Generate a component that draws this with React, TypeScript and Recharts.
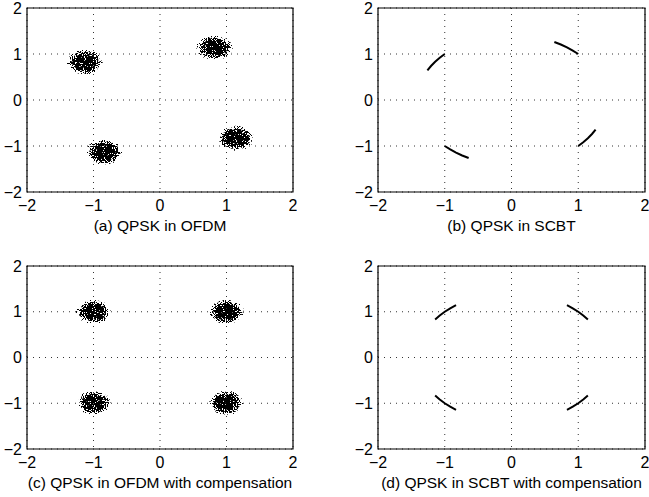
import React from 'react';
import {
  ScatterChart,
  Scatter,
  XAxis,
  YAxis,
  CartesianGrid,
  ReferenceArea,
} from 'recharts';

// axis ticks shared by all four panels
const TICKS = [-2, -1, 0, 1, 2];

// (a) OFDM clouds, rotated by the phase error
const cloudsA = [
  { x: -1.13, y: 0.83 },
  { x: 0.82, y: 1.14 },
  { x: -0.84, y: -1.13 },
  { x: 1.14, y: -0.83 },
];

// (c) OFDM clouds after compensation
const cloudsC = [
  { x: -1.0, y: 1.0 },
  { x: 1.0, y: 1.0 },
  { x: -0.99, y: -0.99 },
  { x: 1.0, y: -0.99 },
];

// (b) SCBT arcs, one array per constellation point
const arcB1 = [
  { x: -1.0, y: 1.0 },
  { x: -1.075, y: 0.918 },
  { x: -1.144, y: 0.831 },
  { x: -1.206, y: 0.739 },
  { x: -1.26, y: 0.642 },
];
const arcB2 = [
  { x: 1.0, y: 1.0 },
  { x: 0.918, y: 1.075 },
  { x: 0.831, y: 1.144 },
  { x: 0.739, y: 1.206 },
  { x: 0.642, y: 1.26 },
];
const arcB3 = [
  { x: -1.0, y: -1.0 },
  { x: -0.918, y: -1.075 },
  { x: -0.831, y: -1.144 },
  { x: -0.739, y: -1.206 },
  { x: -0.642, y: -1.26 },
];
const arcB4 = [
  { x: 1.0, y: -1.0 },
  { x: 1.075, y: -0.918 },
  { x: 1.144, y: -0.831 },
  { x: 1.206, y: -0.739 },
  { x: 1.26, y: -0.642 },
];

// (d) SCBT arcs after compensation
const arcD1 = [
  { x: -0.831, y: 1.144 },
  { x: -0.918, y: 1.075 },
  { x: -1.0, y: 1.0 },
  { x: -1.075, y: 0.918 },
  { x: -1.144, y: 0.831 },
];
const arcD2 = [
  { x: 0.831, y: 1.144 },
  { x: 0.918, y: 1.075 },
  { x: 1.0, y: 1.0 },
  { x: 1.075, y: 0.918 },
  { x: 1.144, y: 0.831 },
];
const arcD3 = [
  { x: -0.831, y: -1.144 },
  { x: -0.918, y: -1.075 },
  { x: -1.0, y: -1.0 },
  { x: -1.075, y: -0.918 },
  { x: -1.144, y: -0.831 },
];
const arcD4 = [
  { x: 0.831, y: -1.144 },
  { x: 0.918, y: -1.075 },
  { x: 1.0, y: -1.0 },
  { x: 1.075, y: -0.918 },
  { x: 1.144, y: -0.831 },
];

const FONT = 'Arial, "Liberation Sans", Helvetica, sans-serif';
const TICK_FONT = 16;
const Y_AXIS_W = 27;
const X_AXIS_H = 20;

const fmt = (v: number) => (v < 0 ? `\u2212${Math.abs(v)}` : `${v}`);

const tickStyle = { fontSize: `${TICK_FONT}px`, fontFamily: FONT, fill: '#000' };

// tick labels drawn by hand so the font size sticks
const XTick = ({ x, y, payload }: any) => (
  <text x={x} y={y + 19} textAnchor="middle" style={tickStyle}>
    {fmt(payload.value)}
  </text>
);

const YTick = ({ x, y, payload }: any) => (
  <text x={x + 1} y={y + 5.5} textAnchor="end" style={tickStyle}>
    {fmt(payload.value)}
  </text>
);

interface PanelProps {
  id: string;
  left: number;
  top: number;
  plotW: number;
  plotH: number;
  caption: string;
  clouds?: { x: number; y: number }[];
  arcs?: { x: number; y: number }[][];
  spread?: number;
}

const Panel = ({ id, left, top, plotW, plotH, caption, clouds, arcs, spread = 0.27 }: PanelProps) => {
  const marginTop = 8;
  const marginRight = 4;
  const width = Y_AXIS_W + plotW + marginRight;
  const height = marginTop + plotH + X_AXIS_H + 10;
  const pxX = plotW / 4;
  const pxY = plotH / 4;

  // a cloud of received symbols: dithered radial density
  const CloudShape = (props: any) => {
    const { cx, cy, index } = props;
    const key = `${id}-${index}`;
    const rx = spread * pxX;
    const ry = spread * pxY;
    return (
      <g>
        <defs>
          <radialGradient id={`grad-${key}`}>
            <stop offset="0%" stopColor="#000" stopOpacity={1} />
            <stop offset="48%" stopColor="#000" stopOpacity={1} />
            <stop offset="70%" stopColor="#000" stopOpacity={0.72} />
            <stop offset="87%" stopColor="#000" stopOpacity={0.25} />
            <stop offset="100%" stopColor="#000" stopOpacity={0} />
          </radialGradient>
          <filter id={`grain-${key}`} x="-20%" y="-20%" width="140%" height="140%">
            <feTurbulence type="fractalNoise" baseFrequency="0.9" numOctaves={1} seed={index * 7 + 3} result="n" />
            <feColorMatrix
              in="n"
              type="matrix"
              values="0 0 0 0 0  0 0 0 0 0  0 0 0 0 0  3 0 0 0 -1"
              result="m"
            />
            <feComposite in="SourceGraphic" in2="m" operator="arithmetic" k1={0} k2={1} k3={-1} k4={0} result="d" />
            <feComponentTransfer in="d">
              <feFuncA type="linear" slope={10} intercept={0} />
            </feComponentTransfer>
          </filter>
        </defs>
        <ellipse
          cx={cx}
          cy={cy}
          rx={rx}
          ry={ry}
          fill={`url(#grad-${key})`}
          filter={`url(#grain-${key})`}
        />
      </g>
    );
  };

  return (
    <div style={{ position: 'absolute', left: left, top: top, width: width, height: height + 30 }}>
      <ScatterChart
        width={width}
        height={height}
        margin={{ top: marginTop, right: marginRight, bottom: 10, left: 0 }}
      >
        <CartesianGrid stroke="#333" strokeDasharray="1 5" strokeWidth={1} />
        <XAxis
          type="number"
          dataKey="x"
          domain={[-2, 2]}
          ticks={TICKS}
          allowDataOverflow
          axisLine={false}
          tickLine={false}
          tickSize={0}
          tickMargin={0}
          height={X_AXIS_H}
          tick={<XTick />}
          interval={0}
        />
        <YAxis
          type="number"
          dataKey="y"
          domain={[-2, 2]}
          ticks={TICKS}
          allowDataOverflow
          axisLine={false}
          tickLine={false}
          tickSize={0}
          tickMargin={6}
          width={Y_AXIS_W}
          tick={<YTick />}
          interval={0}
        />
        <ReferenceArea
          x1={-2}
          x2={2}
          y1={-2}
          y2={2}
          fill="none"
          fillOpacity={0}
          stroke="#000"
          strokeWidth={1.2}
          ifOverflow="visible"
        />
        {clouds && (
          <Scatter data={clouds} shape={CloudShape} isAnimationActive={false} />
        )}
        {arcs &&
          arcs.map((arc, i) => (
            <Scatter
              key={`arc-${i}`}
              data={arc}
              line={{ stroke: '#000', strokeWidth: 2 }}
              lineType="joint"
              shape={() => <g />}
              isAnimationActive={false}
            />
          ))}
      </ScatterChart>
      <div
        style={{
          position: 'absolute',
          left: Y_AXIS_W - 40,
          width: plotW + 80,
          top: marginTop + plotH + 25,
          textAlign: 'center',
          fontFamily: FONT,
          fontSize: 15.5,
          lineHeight: '18px',
          color: '#000',
          whiteSpace: 'nowrap',
        }}
      >
        {caption}
      </div>
    </div>
  );
};

export default function App() {
  return (
    <div
      style={{
        position: 'absolute',
        left: 0,
        top: 0,
        width: 649,
        height: 497,
        background: '#fff',
        overflow: 'hidden',
      }}
    >
      <Panel id="a" left={0} top={0} plotW={266} plotH={184} caption="(a) QPSK in OFDM" clouds={cloudsA} spread={0.28} />
      <Panel id="b" left={351} top={0} plotW={267} plotH={184} caption="(b) QPSK in SCBT" arcs={[arcB1, arcB2, arcB3, arcB4]} />
      <Panel
        id="c"
        left={0}
        top={258}
        plotW={266}
        plotH={183}
        caption="(c) QPSK in OFDM with compensation"
        clouds={cloudsC}
        spread={0.27}
      />
      <Panel
        id="d"
        left={351}
        top={258}
        plotW={267}
        plotH={183}
        caption="(d) QPSK in SCBT with compensation"
        arcs={[arcD1, arcD2, arcD3, arcD4]}
      />
    </div>
  );
}
